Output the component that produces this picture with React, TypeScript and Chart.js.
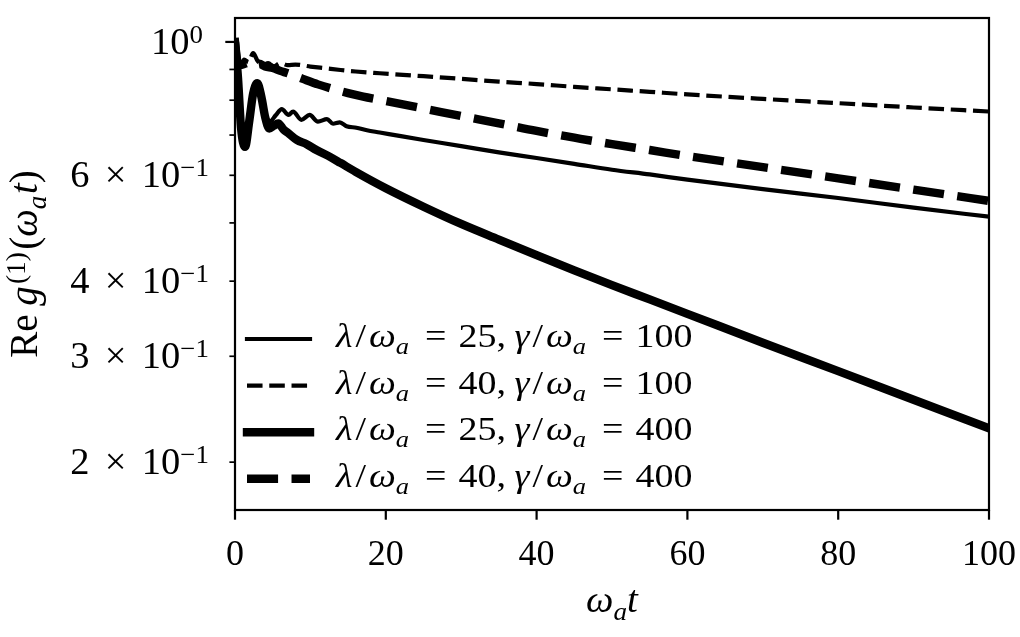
import { useEffect, useRef } from "react";
import { Chart, registerables } from "chart.js";

Chart.register(...registerables);

// lambda/omega_a = 25, gamma/omega_a = 100 (thin solid)
const tA = [0, 0.4, 0.8, 1.33, 1.9, 2.4, 2.96, 3.5, 4.0, 4.6, 5.4, 6.2, 7.1, 7.7, 8.8, 9.9, 11.0, 12.2, 13.0, 13.9, 14.8, 16.1, 17.5, 19.2, 22, 25, 30, 35, 40, 45, 50, 55, 60, 70, 80, 90, 100];
const gA = [1.0, 0.87, 0.72, 0.669, 0.74, 0.82, 0.854, 0.81, 0.76, 0.737, 0.755, 0.773, 0.756, 0.766, 0.742, 0.756, 0.737, 0.744, 0.731, 0.735, 0.724, 0.72, 0.713, 0.707, 0.697, 0.687, 0.671, 0.655, 0.641, 0.627, 0.613, 0.602, 0.59, 0.569, 0.55, 0.53, 0.512];

// lambda/omega_a = 40, gamma/omega_a = 100 (thin dashed)
const tB = [0, 0.3, 0.7, 1.2, 1.8, 2.4, 3.0, 3.7, 4.4, 5.1, 6.0, 7.0, 8.0, 10, 12, 14, 16, 19.2, 25, 30, 35, 40, 45, 50, 55, 60, 70, 80, 90, 100];
const gB = [1.0, 0.93, 0.912, 0.935, 0.925, 0.958, 0.93, 0.915, 0.922, 0.91, 0.922, 0.915, 0.917, 0.91, 0.904, 0.898, 0.893, 0.887, 0.877, 0.868, 0.859, 0.851, 0.842, 0.834, 0.826, 0.818, 0.804, 0.791, 0.778, 0.766];

// lambda/omega_a = 25, gamma/omega_a = 400 (thick solid)
const tC = [0, 0.4, 0.8, 1.33, 1.9, 2.4, 2.96, 3.5, 4.0, 4.55, 5.1, 5.74, 6.4, 7.2, 8.2, 9.5, 10.8, 12.6, 14, 16, 20, 25, 30, 35, 40, 45, 50, 55, 60, 70, 80, 90, 100];
const gC = [1.0, 0.87, 0.72, 0.669, 0.74, 0.82, 0.854, 0.81, 0.75, 0.718, 0.725, 0.732, 0.716, 0.703, 0.687, 0.676, 0.661, 0.644, 0.629, 0.608, 0.571, 0.532, 0.498, 0.469, 0.442, 0.417, 0.394, 0.373, 0.353, 0.316, 0.2834, 0.254, 0.2277];

// lambda/omega_a = 40, gamma/omega_a = 400 (thick dashed)
const tD = [0, 0.3, 0.7, 1.3, 2.0, 2.6, 3.2, 4.0, 5.0, 6.0, 7.0, 9, 11, 13, 15, 17, 19.2, 25, 30, 35, 40, 45, 50, 55, 60, 70, 80, 90, 100];
const gD = [1.0, 0.93, 0.915, 0.92, 0.925, 0.915, 0.92, 0.91, 0.905, 0.895, 0.887, 0.868, 0.85, 0.835, 0.822, 0.811, 0.801, 0.775, 0.753, 0.732, 0.711, 0.693, 0.676, 0.661, 0.646, 0.619, 0.593, 0.568, 0.544];

const lambdas = [25, 40, 25, 40];
const gammas = [100, 100, 400, 400];

const xTicks = [0, 20, 40, 60, 80, 100];
// labelled y ticks: value, mantissa ("" for a pure power), exponent
const yLabelled = [
  { v: 1.0, m: "", e: "0" },
  { v: 0.6, m: "6", e: "\u22121" },
  { v: 0.4, m: "4", e: "\u22121" },
  { v: 0.3, m: "3", e: "\u22121" },
  { v: 0.2, m: "2", e: "\u22121" },
];
const yMinorOnly = [0.9, 0.8, 0.7, 0.5];

const SERIF = '"Liberation Serif", "DejaVu Serif", serif';

type Run = { s: string; it?: boolean; sub?: boolean; sup?: boolean; gl?: number; gr?: number };

function fontFor(r: Run, size: number) {
  const sz = r.sub || r.sup ? size * 0.7 : size;
  return `${r.it ? "italic " : ""}${sz}px ${SERIF}`;
}

function richWidth(ctx: CanvasRenderingContext2D, runs: Run[], size: number) {
  let w = 0;
  for (const r of runs) {
    ctx.font = fontFor(r, size);
    w += (r.gl || 0) * size + ctx.measureText(r.s).width + (r.gr || 0) * size;
  }
  return w;
}

// draws math-like text; sx stretches it horizontally (Computer Modern is wider than the serif we have)
function drawRich(ctx: CanvasRenderingContext2D, runs: Run[], x: number, y: number, size: number, align: "left" | "right" | "center", sx = 1) {
  const w = richWidth(ctx, runs, size) * sx;
  const x0 = align === "left" ? x : align === "right" ? x - w : x - w / 2;
  ctx.save();
  ctx.translate(x0, y);
  ctx.scale(sx, 1);
  ctx.textAlign = "left";
  ctx.textBaseline = "alphabetic";
  let cx = 0;
  for (const r of runs) {
    ctx.font = fontFor(r, size);
    cx += (r.gl || 0) * size;
    const dy = r.sub ? size * 0.22 : r.sup ? -size * 0.3 : 0;
    ctx.fillText(r.s, cx, dy);
    cx += ctx.measureText(r.s).width + (r.gr || 0) * size;
  }
  ctx.restore();
}

function legendRuns(lam: number, gam: number): Run[] {
  return [
    { s: "\u03bb", it: true },
    { s: "/", gl: 0.08, gr: 0.08 },
    { s: "\u03c9", it: true },
    { s: "a", it: true, sub: true },
    { s: "=", gl: 0.42, gr: 0.32 },
    { s: `${lam},` },
    { s: "\u03b3", it: true, gl: 0.22 },
    { s: "/", gl: 0.08, gr: 0.08 },
    { s: "\u03c9", it: true },
    { s: "a", it: true, sub: true },
    { s: "=", gl: 0.42, gr: 0.32 },
    { s: `${gam}` },
  ];
}

const mplAxes = {
  id: "mplAxes",
  afterDraw(chart: Chart) {
    const { ctx, chartArea: a } = chart;
    const xs = chart.scales.x;
    const ys = chart.scales.y;
    ctx.save();
    ctx.strokeStyle = "#000";
    ctx.fillStyle = "#000";
    ctx.lineCap = "butt";

    const seg = (x1: number, y1: number, x2: number, y2: number, w: number) => {
      ctx.lineWidth = w;
      ctx.beginPath();
      ctx.moveTo(x1, y1);
      ctx.lineTo(x2, y2);
      ctx.stroke();
    };

    // x ticks and labels
    for (const v of xTicks) {
      const px = xs.getPixelForValue(v);
      seg(px, a.bottom, px, a.bottom + 9.7, 2.2);
      drawRich(ctx, [{ s: String(v) }], px, a.bottom + 55, 36, "center");
    }

    // y ticks
    for (const v of yMinorOnly) {
      const py = ys.getPixelForValue(v);
      seg(a.left, py, a.left - 5.6, py, 1.7);
    }
    for (const t of yLabelled) {
      const py = ys.getPixelForValue(t.v);
      const major = t.m === "";
      seg(a.left, py, a.left - (major ? 9.7 : 5.6), py, major ? 2.2 : 1.7);
      const runs: Run[] = major
        ? [{ s: "10" }, { s: t.e, sup: true }]
        : [{ s: t.m }, { s: "\u00d7", gl: 0.4, gr: 0.4 }, { s: "10" }, { s: t.e, sup: true }];
      drawRich(ctx, runs, major ? 203 : 209, py + 12, 37, "right", 1.04);
    }

    // frame
    ctx.lineWidth = 2.2;
    ctx.strokeRect(a.left, a.top, a.right - a.left, a.bottom - a.top);

    // axis titles
    drawRich(ctx, [{ s: "\u03c9", it: true }, { s: "a", it: true, sub: true }, { s: "t", it: true }], (a.left + a.right) / 2, 612, 37, "center", 1.05);
    ctx.save();
    ctx.translate(37, (a.top + a.bottom) / 2);
    ctx.rotate(-Math.PI / 2);
    drawRich(
      ctx,
      [
        { s: "Re", gr: 0.22 },
        { s: "g", it: true },
        { s: "(1)", sup: true, gl: 0.06, gr: 0.06 },
        { s: "(" },
        { s: "\u03c9", it: true },
        { s: "a", it: true, sub: true },
        { s: "t", it: true, gl: 0.04 },
        { s: ")" },
      ],
      0,
      0,
      39,
      "center"
    );
    ctx.restore();

    // legend
    const metas = chart.data.datasets;
    for (let i = 0; i < metas.length; i++) {
      const ds: any = metas[i];
      const ry = 339 + i * 46.6;
      ctx.save();
      ctx.lineWidth = ds.borderWidth;
      ctx.lineCap = ds.borderCapStyle;
      ctx.setLineDash(ds.borderDash || []);
      ctx.beginPath();
      ctx.moveTo(247, ry);
      ctx.lineTo(310, ry);
      ctx.stroke();
      ctx.restore();
      drawRich(ctx, legendRuns(lambdas[i], gammas[i]), 336, ry + 8, 33, "left", 1.15);
    }
    ctx.restore();
  },
};

function series(t: number[], g: number[]) {
  return t.map((x, i) => ({ x, y: g[i] }));
}

export default function App() {
  const canvasRef = useRef<HTMLCanvasElement | null>(null);

  useEffect(() => {
    if (!canvasRef.current) return;
    const thin = 4.2;
    const thick = 8.4;
    const common = {
      borderColor: "#000",
      pointRadius: 0,
      cubicInterpolationMode: "monotone" as const,
      borderJoinStyle: "round" as const,
      clip: 0,
    };
    const chart = new Chart(canvasRef.current, {
      type: "line",
      data: {
        datasets: [
          { ...common, data: series(tA, gA), borderWidth: thin, borderCapStyle: "square", order: 3 },
          { ...common, data: series(tB, gB), borderWidth: thin, borderCapStyle: "butt", borderDash: [3.7 * thin, 1.6 * thin], order: 2 },
          { ...common, data: series(tC, gC), borderWidth: thick, borderCapStyle: "square", order: 1 },
          { ...common, data: series(tD, gD), borderWidth: thick, borderCapStyle: "butt", borderDash: [3.7 * thick, 1.6 * thick], order: 0 },
        ] as any,
      },
      options: {
        animation: false,
        responsive: false,
        events: [],
        layout: { padding: { top: 18, right: 31, left: 0, bottom: 0 } },
        plugins: { legend: { display: false }, tooltip: { enabled: false } },
        scales: {
          x: {
            type: "linear",
            min: 0,
            max: 100,
            grid: { display: false },
            border: { display: false },
            ticks: { display: false },
            afterFit: (s: any) => {
              s.height = 127;
            },
          },
          y: {
            type: "logarithmic",
            min: 0.1665,
            max: 1.096,
            grid: { display: false },
            border: { display: false },
            ticks: { display: false },
            afterFit: (s: any) => {
              s.width = 235;
            },
          },
        },
      },
      plugins: [mplAxes],
    });
    return () => chart.destroy();
  }, []);

  return (
    <div style={{ position: "fixed", left: 0, top: 0, width: 1020, height: 637, background: "#fff" }}>
      <canvas ref={canvasRef} width={1020} height={637} style={{ display: "block" }} />
    </div>
  );
}
